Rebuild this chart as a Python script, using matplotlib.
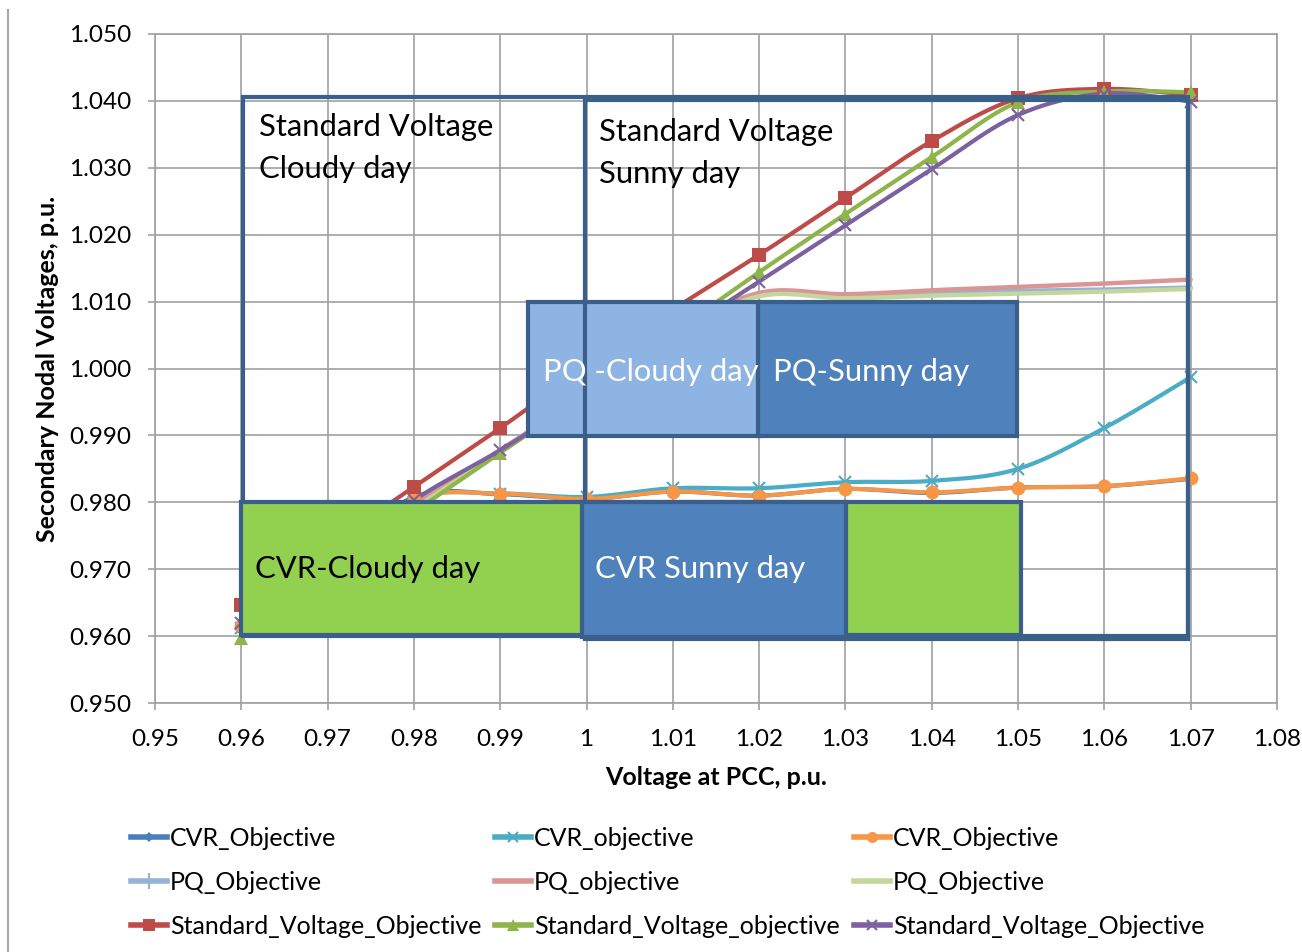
import numpy as np
import matplotlib
matplotlib.use("Agg")
import matplotlib.pyplot as plt
from matplotlib.patches import Rectangle
from matplotlib.lines import Line2D

plt.rcParams['font.family'] = ['Lato', 'DejaVu Sans']

# --- data: secondary nodal voltage vs. PCC voltage ---
pcc_voltage = [0.96, 0.97, 0.98, 0.99, 1.00, 1.01, 1.02, 1.03, 1.04, 1.05, 1.06, 1.07]

cvr_objective_a = [0.9610, 0.9708, 0.9808, 0.9812, 0.9805, 0.9816, 0.9810, 0.9820, 0.9814, 0.9822, 0.9824, 0.9835]
cvr_objective_b = [0.9612, 0.9710, 0.9805, 0.9813, 0.9808, 0.9821, 0.9821, 0.9830, 0.9832, 0.9850, 0.9911, 0.9987]
cvr_objective_c = [0.9615, 0.9712, 0.9805, 0.9813, 0.9805, 0.9816, 0.9810, 0.9820, 0.9815, 0.9822, 0.9824, 0.9836]

pq_objective_a = [0.9615, 0.9705, 0.9795, 0.9878, 0.9962, 1.0050, 1.0112, 1.0110, 1.0113, 1.0116, 1.0118, 1.0121]
pq_objective_b = [0.9615, 0.9705, 0.9795, 0.9878, 0.9962, 1.0052, 1.0113, 1.0111, 1.0117, 1.0122, 1.0127, 1.0133]
pq_objective_c = [0.9612, 0.9700, 0.9790, 0.9875, 0.9960, 1.0048, 1.0108, 1.0105, 1.0109, 1.0112, 1.0115, 1.0119]

std_objective_a = [0.9646, 0.9735, 0.9823, 0.9911, 1.0003, 1.0088, 1.0170, 1.0255, 1.0340, 1.0404, 1.0418, 1.0409]
std_objective_b = [0.9597, 0.9690, 0.9785, 0.9874, 0.9962, 1.0053, 1.0144, 1.0231, 1.0316, 1.0398, 1.0414, 1.0413]
std_objective_c = [0.9620, 0.9705, 0.9803, 0.9878, 0.9960, 1.0046, 1.0130, 1.0214, 1.0298, 1.0379, 1.0411, 1.0399]

series = [
    ("CVR_Objective", cvr_objective_a, "#4A7EBB", "D", 7),
    ("CVR_objective", cvr_objective_b, "#4BACC6", "x", 9),
    ("CVR_Objective", cvr_objective_c, "#F79646", "o", 10),
    ("PQ_Objective", pq_objective_a, "#95B3D7", None, 0),
    ("PQ_objective", pq_objective_b, "#D99694", None, 0),
    ("PQ_Objective", pq_objective_c, "#C3D69B", None, 0),
    ("Standard_Voltage_Objective", std_objective_a, "#BE4B48", "s", 10),
    ("Standard_Voltage_objective", std_objective_b, "#8EB44A", "^", 10),
    ("Standard_Voltage_Objective", std_objective_c, "#7D60A0", "x", 9),
]

BORDER = "#3A5F8B"


def smooth(x, y, n=20):
    """Catmull-Rom style smoothing, like a spreadsheet 'smoothed line'."""
    p = np.column_stack([x, y])
    pts = np.vstack([p[0], p, p[-1]])
    out = []
    t = np.linspace(0, 1, n, endpoint=False)[:, None]
    for i in range(1, len(pts) - 2):
        p0, p1, p2, p3 = pts[i - 1], pts[i], pts[i + 1], pts[i + 2]
        c1 = p1 + (p2 - p0) / 6.0
        c2 = p2 - (p3 - p1) / 6.0
        seg = ((1 - t) ** 3) * p1 + 3 * ((1 - t) ** 2) * t * c1 + 3 * (1 - t) * t ** 2 * c2 + t ** 3 * p2
        out.append(seg)
    out.append(p[-1][None, :])
    out = np.vstack(out)
    return out[:, 0], out[:, 1]


fig = plt.figure(figsize=(13.02, 9.52), dpi=100)
ax = fig.add_axes([155 / 1302, 1 - 703 / 952, 1122 / 1302, 669 / 952])

handles = []
for label, vals, color, marker, ms in series:
    sx, sy = smooth(pcc_voltage, vals)
    ax.plot(sx, sy, color=color, lw=3.2 if marker is None else 3, zorder=2, solid_capstyle='round')
    if marker:
        mew = 1.5 if marker == "x" else 0
        ax.plot(pcc_voltage, vals, linestyle='none', marker=marker, ms=ms,
                color=color, mec=color, mew=mew, zorder=2.5)
    # legend swatch: short thick line with a smaller marker in the middle
    hmark = marker if marker else ("|" if color == "#95B3D7" else None)
    handles.append(Line2D([], [], color=color, lw=4, marker=hmark,
                          ms=ms * 0.8 if marker else 12,
                          mew=1.5 if marker in ("x", None) else 0, mec=color))

# annotation regions over the curves
ax.add_patch(Rectangle((0.9602, 0.9600), 1.0697 - 0.9602, 1.0406 - 0.9600,
                       fill=False, ec=BORDER, lw=3, zorder=3))
ax.add_patch(Rectangle((0.9932, 0.9899), 1.0201 - 0.9932, 1.0099 - 0.9899,
                       fc="#8EB4E3", ec=BORDER, lw=3, zorder=3.2))
ax.add_patch(Rectangle((0.9998, 0.9595), 1.0697 - 0.9998, 1.0401 - 0.9595,
                       fill=False, ec=BORDER, lw=3, zorder=3.3))
ax.add_patch(Rectangle((1.0199, 0.9899), 1.0499 - 1.0199, 1.0099 - 0.9899,
                       fc="#4F81BD", ec=BORDER, lw=3, zorder=3.4))
ax.add_patch(Rectangle((0.9600, 0.9601), 1.0503 - 0.9600, 0.9800 - 0.9601,
                       fc="#92D050", ec=BORDER, lw=3, zorder=3.5))
ax.add_patch(Rectangle((0.9995, 0.9599), 1.0301 - 0.9995, 0.9800 - 0.9599,
                       fc="#4F81BD", ec=BORDER, lw=3, zorder=3.6))

tkw = dict(fontsize=22.3, zorder=5, va='center', ha='left')
ax.text(0.9620, 1.0361, "Standard Voltage", **tkw)
ax.text(0.9620, 1.0298, "Cloudy day", **tkw)
ax.text(1.0014, 1.0353, "Standard Voltage", **tkw)
ax.text(1.0014, 1.0290, "Sunny day", **tkw)
ax.text(0.9950, 0.9995, "PQ -Cloudy day", color="white", **tkw)
ax.text(1.0216, 0.9995, "PQ-Sunny day", color="white", **tkw)
ax.text(0.9616, 0.9700, "CVR-Cloudy day", **tkw)
ax.text(1.0010, 0.9700, "CVR Sunny day", color="white", **tkw)

# axes, grid and ticks
ax.set_xlim(0.95, 1.08)
ax.set_ylim(0.950, 1.050)
xt = np.round(np.arange(0.95, 1.0801, 0.01), 2)
ax.set_xticks(xt)
ax.set_xticklabels(["1" if abs(v - 1) < 1e-9 else f"{v:g}" for v in xt])
yt = np.round(np.arange(0.95, 1.0501, 0.01), 3)
ax.set_yticks(yt)
ax.set_yticklabels([f"{v:.3f}" for v in yt])
ax.grid(True, color="#A0A0A0", lw=1.2)
ax.set_axisbelow(True)
for s in ax.spines.values():
    s.set_color("#A0A0A0")
    s.set_linewidth(1.2)
ax.tick_params(axis='both', length=5, width=1.2, color="#A0A0A0", labelsize=17.5)
ax.tick_params(axis='y', pad=12)
ax.tick_params(axis='x', pad=13.5)
ax.set_xlabel("Voltage at PCC, p.u.", fontsize=18, fontweight='bold', labelpad=12)
ax.set_ylabel("Secondary Nodal Voltages, p.u.", fontsize=18, fontweight='bold', labelpad=7)

# legend, filled column by column so rows read across
order = [0, 3, 6, 1, 4, 7, 2, 5, 8]
fig.legend([handles[i] for i in order], [series[i][0] for i in order],
           loc='upper left', bbox_to_anchor=(118 / 1302, 1 - 814 / 952),
           ncol=3, frameon=False, fontsize=18, handlelength=1.45,
           handletextpad=0.12, columnspacing=0.55, labelspacing=0.84, borderpad=0)

# chart-area edge on the left
fig.add_artist(Line2D([8 / 1302, 8 / 1302], [0, 1 - 10 / 952], color="#A6A6A6", lw=1.5))

fig.savefig("out.png", dpi=100)
